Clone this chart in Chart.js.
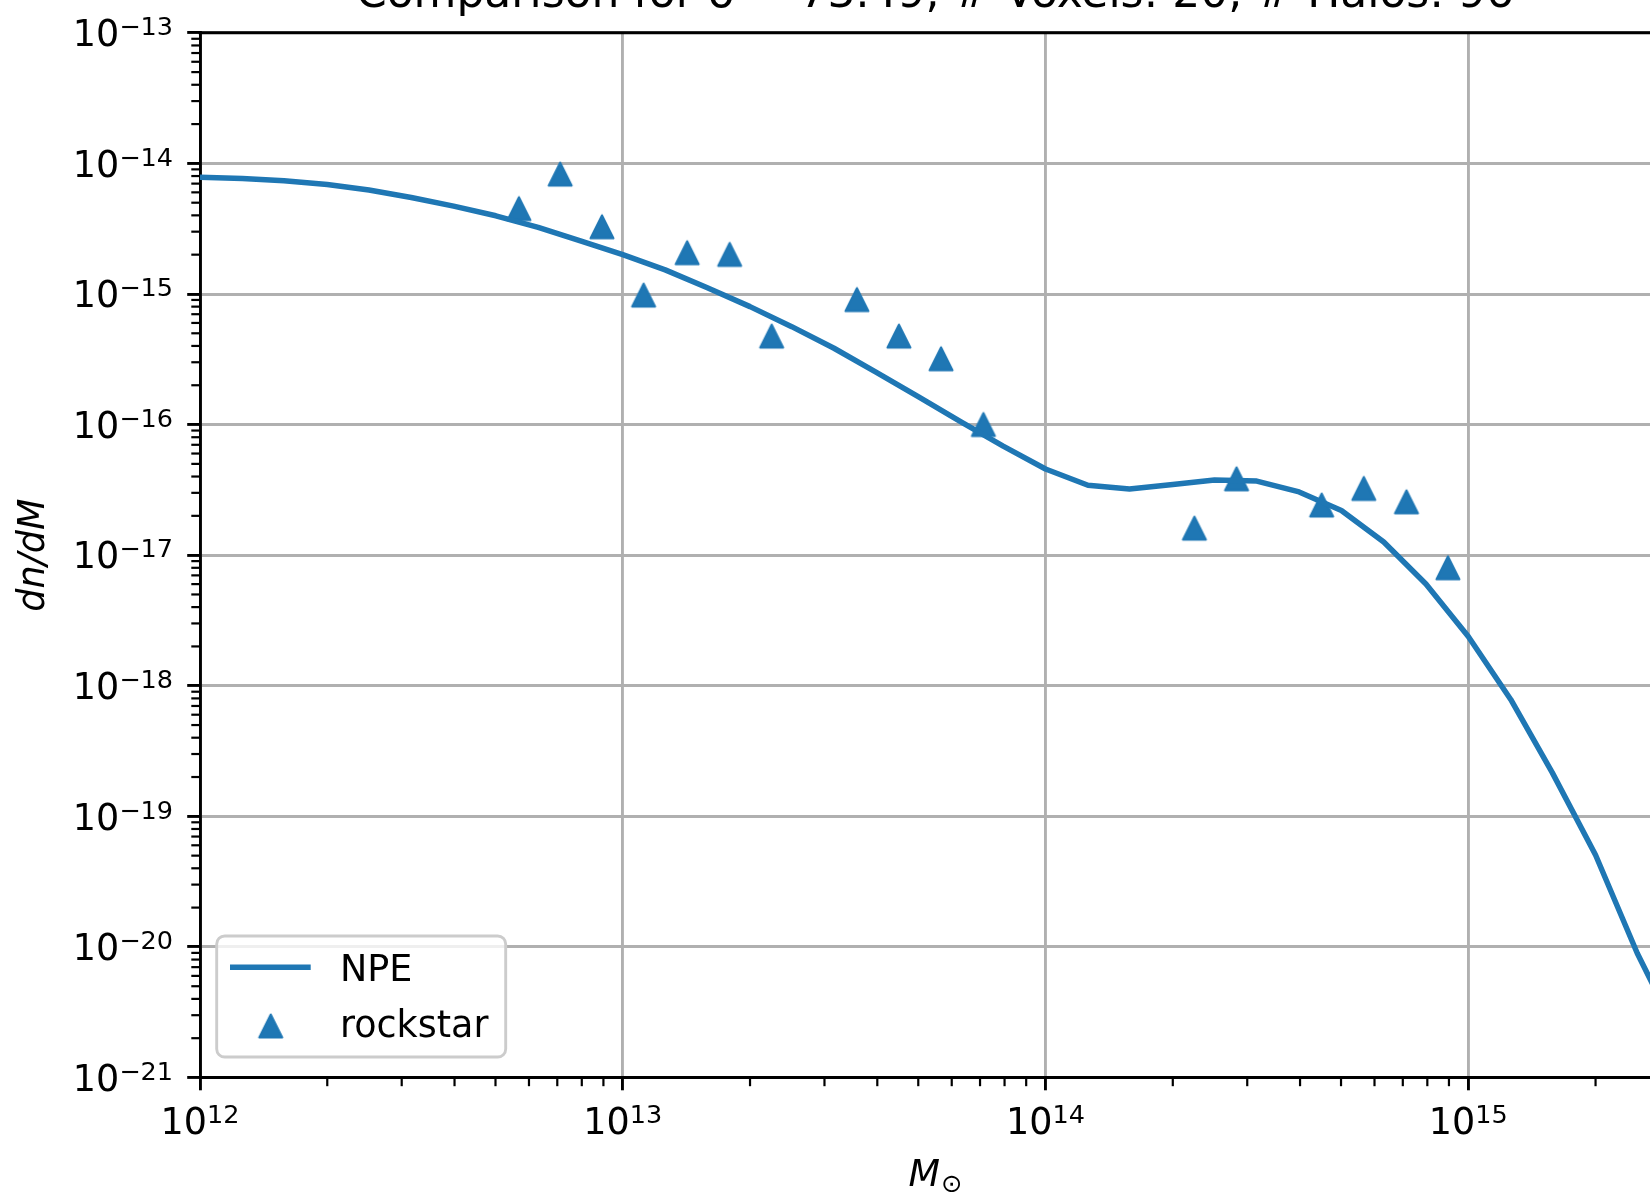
<!DOCTYPE html>
<html>
<head>
<meta charset="utf-8">
<script src="https://cdn.jsdelivr.net/npm/chart.js@4/dist/chart.umd.min.js"></script>
<style>
  html, body { margin: 0; padding: 0; background: #fff; overflow: hidden; }
  body { width: 1650px; height: 1192px; position: relative; }
  #grafico { position: absolute; left: 0; top: -40px; }
</style>
</head>
<body>
<canvas id="grafico" width="1700" height="1240"></canvas>
<script>
const grafico_canvas = document.getElementById("grafico");

const titleText = "Comparison for δ = 73.49, # Voxels: 20, # Halos: 96";

// NPE curve (mass, dn/dM)
const massLine = [
  1.00e12, 1.26e12, 1.58e12, 2.00e12, 2.51e12, 3.16e12, 3.98e12, 5.01e12, 6.31e12, 7.94e12,
  1.00e13, 1.26e13, 1.58e13, 2.00e13, 2.51e13, 3.16e13, 3.98e13, 5.01e13, 6.31e13, 7.94e13,
  1.00e14, 1.26e14, 1.58e14, 2.00e14, 2.51e14, 3.16e14, 3.98e14, 5.01e14, 6.31e14, 7.94e14,
  1.00e15, 1.26e15, 1.58e15, 2.00e15, 2.51e15, 3.16e15,
];
const npeValues = [
  7.82e-15, 7.67e-15, 7.36e-15, 6.90e-15, 6.25e-15, 5.48e-15, 4.71e-15, 3.97e-15, 3.24e-15, 2.55e-15,
  2.00e-15, 1.53e-15, 1.12e-15, 8.00e-16, 5.62e-16, 3.84e-16, 2.51e-16, 1.63e-16, 1.05e-16, 6.84e-17,
  4.57e-17, 3.43e-17, 3.21e-17, 3.48e-17, 3.76e-17, 3.69e-17, 3.05e-17, 2.20e-17, 1.26e-17, 6.01e-18,
  2.38e-18, 7.85e-19, 2.16e-19, 5.06e-20, 8.95e-21, 2.00e-21,
];

// rockstar halos (mass, dn/dM)
const massHalo = [
  5.68e12, 7.11e12, 8.93e12, 1.12e13, 1.42e13, 1.79e13, 2.25e13, 3.58e13, 4.50e13,
  5.66e13, 7.13e13, 2.25e14, 2.83e14, 4.50e14, 5.66e14, 7.14e14, 8.95e14,
];
const rockstarValues = [
  4.50e-15, 8.28e-15, 3.27e-15, 9.80e-16, 2.07e-15, 2.01e-15, 4.76e-16, 9.06e-16, 4.76e-16,
  3.19e-16, 1.00e-16, 1.61e-17, 3.84e-17, 2.42e-17, 3.24e-17, 2.56e-17, 8.00e-18,
];

// axis limits
const xLimits = [1e12, 3e15];
const yLimits = [1e-21, 1e-13];

const FONT = "DejaVu Sans";
const BASE = 36.5;   // tick / label size
const SUP = 25.5;    // exponent size
const BLUE = "#1f77b4";

const makeTriangle = (color) => {
  const c = document.createElement("canvas");
  c.width = 28;
  c.height = 28;
  const g = c.getContext("2d");
  g.fillStyle = color;
  g.strokeStyle = color;
  g.lineWidth = 2;
  g.lineJoin = "round";
  g.beginPath();
  g.moveTo(14, 2.5);
  g.lineTo(25.5, 25.5);
  g.lineTo(2.5, 25.5);
  g.closePath();
  g.fill();
  g.stroke();
  return c;
};
const triangle = makeTriangle(BLUE);

// decade ticks with minor 2..9
const logTicks = (min, max) => {
  const ticks = [];
  const e0 = Math.floor(Math.log10(min));
  const e1 = Math.ceil(Math.log10(max));
  for (let e = e0; e <= e1; e++) {
    for (let m = 1; m <= 9; m++) {
      const v = m * Math.pow(10, e);
      if (v >= min * 0.999 && v <= max * 1.001) ticks.push({ value: v, major: m === 1 });
    }
  }
  return ticks;
};

const drawPower = (ctx, x, baseline, align, value) => {
  const exp = Math.round(Math.log10(value));
  const expText = exp < 0 ? "\u2212" + -exp : String(exp);
  ctx.font = BASE + 'px "' + FONT + '"';
  const wBase = ctx.measureText("10").width;
  ctx.font = SUP + 'px "' + FONT + '"';
  const wExp = ctx.measureText(expText).width;
  const total = wBase + wExp;
  const left = align === "right" ? x - total : x - total / 2;
  ctx.textAlign = "left";
  ctx.textBaseline = "alphabetic";
  ctx.fillStyle = "#000";
  ctx.font = BASE + 'px "' + FONT + '"';
  ctx.fillText("10", left, baseline);
  ctx.font = SUP + 'px "' + FONT + '"';
  ctx.fillText(expText, left + wBase, baseline - 11);
};

const roundBox = (ctx, x, y, w, h, r) => {
  ctx.beginPath();
  ctx.moveTo(x + r, y);
  ctx.arcTo(x + w, y, x + w, y + h, r);
  ctx.arcTo(x + w, y + h, x, y + h, r);
  ctx.arcTo(x, y + h, x, y, r);
  ctx.arcTo(x, y, x + w, y, r);
  ctx.closePath();
};

const decor = {
  id: "decor",
  afterDraw(chart) {
    const { ctx, chartArea } = chart;
    const xs = chart.scales.x;
    const ys = chart.scales.y;
    ctx.save();

    // top spine
    ctx.strokeStyle = "#000";
    ctx.lineWidth = 2.9;
    ctx.beginPath();
    ctx.moveTo(chartArea.left - 1.45, chartArea.top);
    ctx.lineTo(chartArea.right + 2, chartArea.top);
    ctx.stroke();

    // minor ticks
    ctx.lineWidth = 2.2;
    xs.ticks.filter((t) => !t.major).forEach((t) => {
      const px = xs.getPixelForValue(t.value);
      ctx.beginPath();
      ctx.moveTo(px, chartArea.bottom);
      ctx.lineTo(px, chartArea.bottom + 8.7);
      ctx.stroke();
    });
    ys.ticks.filter((t) => !t.major).forEach((t) => {
      const py = ys.getPixelForValue(t.value);
      ctx.beginPath();
      ctx.moveTo(chartArea.left - 8.7, py);
      ctx.lineTo(chartArea.left, py);
      ctx.stroke();
    });

    // tick labels
    xs.ticks.filter((t) => t.major).forEach((t) => {
      drawPower(ctx, xs.getPixelForValue(t.value), chartArea.bottom + 56.5, "center", t.value);
    });
    ys.ticks.filter((t) => t.major).forEach((t) => {
      drawPower(ctx, chartArea.left - 27, ys.getPixelForValue(t.value) + 13.3, "right", t.value);
    });

    // x axis label: M with subscript sun
    ctx.font = "italic " + BASE + 'px "' + FONT + '"';
    const wM = ctx.measureText("M").width;
    ctx.font = SUP + 'px "' + FONT + '"';
    const wSun = ctx.measureText("⊙").width;
    const cx = (chartArea.left + chartArea.right) / 2;
    const lx = cx - (wM + wSun) / 2;
    const by = chartArea.bottom + 108;
    ctx.textAlign = "left";
    ctx.textBaseline = "alphabetic";
    ctx.fillStyle = "#000";
    ctx.font = "italic " + BASE + 'px "' + FONT + '"';
    ctx.fillText("M", lx, by);
    ctx.font = SUP + 'px "' + FONT + '"';
    ctx.fillText("⊙", lx + wM + 1, by + 6);

    // legend box, lower left
    const bw = 289, bh = 121;
    const bx = chartArea.left + 16.7;
    const by0 = chartArea.bottom - 20.5 - bh;
    roundBox(ctx, bx, by0, bw, bh, 8);
    ctx.fillStyle = "rgba(255,255,255,0.8)";
    ctx.fill();
    ctx.strokeStyle = "#cccccc";
    ctx.lineWidth = 2.9;
    ctx.stroke();

    const [lineDs, pointDs] = chart.data.datasets;
    ctx.strokeStyle = lineDs.borderColor;
    ctx.lineWidth = lineDs.borderWidth;
    ctx.beginPath();
    ctx.moveTo(bx + 13.3, by0 + 31.3);
    ctx.lineTo(bx + 94, by0 + 31.3);
    ctx.stroke();
    ctx.drawImage(pointDs.pointStyle, bx + 54 - 14, by0 + 90 - 14);

    ctx.fillStyle = "#000";
    ctx.font = BASE + 'px "' + FONT + '"';
    ctx.fillText(lineDs.label, bx + 123.3, by0 + 45.2);
    ctx.fillText(pointDs.label, bx + 123.3, by0 + 100.7);

    ctx.restore();
  },
};

const gridColor = (c) => (c.tick && c.tick.major ? "#b0b0b0" : "rgba(0,0,0,0)");
const tickColor = (c) => (c.tick && c.tick.major ? "#000000" : "rgba(0,0,0,0)");

const config = {
  type: "scatter",
  data: {
    datasets: [
      {
        label: "NPE",
        data: massLine.map((m, i) => ({ x: m, y: npeValues[i] })),
        showLine: true,
        borderColor: BLUE,
        backgroundColor: BLUE,
        borderWidth: 5.5,
        borderJoinStyle: "round",
        pointRadius: 0,
        tension: 0,
      },
      {
        label: "rockstar",
        data: massHalo.map((m, i) => ({ x: m, y: rockstarValues[i] })),
        showLine: false,
        pointStyle: triangle,
        pointRadius: 12.5,
        backgroundColor: BLUE,
        borderColor: BLUE,
      },
    ],
  },
  options: {
    responsive: false,
    animation: false,
    layout: { padding: { left: 0, right: 30, top: 0, bottom: 0 } },
    plugins: {
      legend: { display: false },
      tooltip: { enabled: false },
      title: {
        display: true,
        text: titleText,
        fullSize: false,
        color: "#000",
        font: { family: FONT, size: 44, weight: "normal" },
        padding: { top: 9.2, bottom: 10.8 },
      },
    },
    scales: {
      x: {
        type: "logarithmic",
        min: xLimits[0],
        max: xLimits[1],
        afterBuildTicks: (scale) => {
          scale.ticks = logTicks(xLimits[0], xLimits[1]);
        },
        afterFit: (scale) => {
          scale.height = 122.5;
        },
        ticks: { display: false, autoSkip: false },
        grid: {
          color: gridColor,
          lineWidth: 2.9,
          tickColor: tickColor,
          tickLength: 12.8,
          tickWidth: 2.9,
        },
        border: { display: true, color: "#000", width: 2.9 },
        title: { display: false },
      },
      y: {
        type: "logarithmic",
        min: yLimits[0],
        max: yLimits[1],
        afterBuildTicks: (scale) => {
          scale.ticks = logTicks(yLimits[0], yLimits[1]);
        },
        afterFit: (scale) => {
          scale.width = 200;
        },
        ticks: { display: false, autoSkip: false },
        grid: {
          color: gridColor,
          lineWidth: 2.9,
          tickColor: tickColor,
          tickLength: 12.8,
          tickWidth: 2.9,
        },
        border: { display: true, color: "#000", width: 2.9 },
        title: {
          display: true,
          text: "dn/dM",
          color: "#000",
          font: { family: FONT, size: BASE, style: "italic" },
          padding: { top: 12.8, bottom: 0 },
        },
      },
    },
  },
  plugins: [decor],
};

new Chart(grafico_canvas, config);
</script>
</body>
</html>
